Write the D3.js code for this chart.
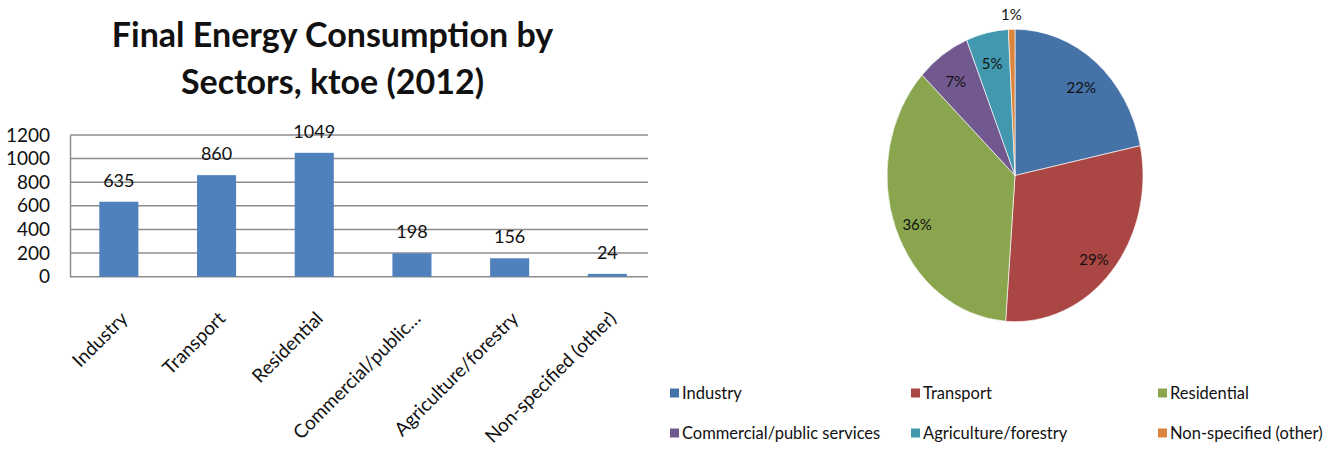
<!DOCTYPE html>
<html>
<head>
<meta charset="utf-8">
<script src="https://cdn.jsdelivr.net/npm/d3@7"></script>
<style>
  html, body { margin: 0; padding: 0; background: #fff; }
  svg { display: block; font-family: Lato, "Open Sans", sans-serif; }
</style>
</head>
<body>
<svg id="chart" width="1327" height="454"></svg>
<script>
// Final energy consumption by sector, ktoe, 2012
const sectors = ["Industry", "Transport", "Residential", "Commercial/public services", "Agriculture/forestry", "Non-specified (other)"];
const axisLabels = ["Industry", "Transport", "Residential", "Commercial/public…", "Agriculture/forestry", "Non-specified (other)"];
const consumption = [635, 860, 1049, 198, 156, 24];
const yTicks = [0, 200, 400, 600, 800, 1000, 1200];
const barColor = "#4F81BD";
const sliceColors = ["#4572A7", "#AA4643", "#89A54E", "#71588F", "#4198AF", "#DB843D"];

const svg = d3.select("#chart");

// ---------- Bar chart ----------
const plot = { left: 70, right: 648, top: 135, bottom: 276.7 };

const x = d3.scaleBand()
  .domain(sectors)
  .range([plot.left, plot.left + 6 * 97.7])
  .paddingInner(0.6)
  .paddingOuter(0.3);

const y = d3.scaleLinear()
  .domain([0, 1200])
  .range([plot.bottom, plot.top]);

// title
const title = svg.append("text")
  .attr("text-anchor", "middle")
  .attr("font-weight", "bold")
  .attr("font-size", 34)
  .attr("fill", "#111");
title.append("tspan").attr("x", 332.5).attr("y", 47).text("Final Energy Consumption by");
title.append("tspan").attr("x", 332.5).attr("y", 94).text("Sectors, ktoe (2012)");

// gridlines
svg.append("g")
  .selectAll("line")
  .data(yTicks)
  .join("line")
  .attr("x1", plot.left)
  .attr("x2", plot.right)
  .attr("y1", d => y(d))
  .attr("y2", d => y(d))
  .attr("stroke", "#8c8c8c")
  .attr("stroke-width", 1.5);

// y axis
const yAxis = svg.append("g")
  .attr("transform", `translate(${plot.left},0)`)
  .call(d3.axisLeft(y).tickValues(yTicks).tickFormat(d3.format("d")).tickSize(0).tickPadding(20));
yAxis.select(".domain").attr("stroke", "#8c8c8c").attr("stroke-width", 1.5);
yAxis.selectAll("text")
  .attr("font-family", "Lato, sans-serif")
  .attr("font-size", 19)
  .attr("fill", "#111");

// bars
svg.append("g")
  .selectAll("rect")
  .data(consumption)
  .join("rect")
  .attr("x", (d, i) => x(sectors[i]))
  .attr("width", x.bandwidth())
  .attr("y", d => y(d))
  .attr("height", d => y(0) - y(d))
  .attr("fill", barColor);

// value labels
svg.append("g")
  .selectAll("text")
  .data(consumption)
  .join("text")
  .attr("x", (d, i) => x(sectors[i]) + x.bandwidth() / 2)
  .attr("y", d => y(d) - 15)
  .attr("text-anchor", "middle")
  .attr("font-size", 18)
  .attr("fill", "#111")
  .text(d => d);

// category labels, rotated
const xAxis = svg.append("g")
  .attr("transform", `translate(0,${plot.bottom})`)
  .call(d3.axisBottom(x).tickSize(0).tickFormat((d, i) => axisLabels[i]));
xAxis.select(".domain").remove();
xAxis.selectAll("text")
  .attr("font-family", "Lato, sans-serif")
  .attr("font-size", 19)
  .attr("fill", "#111")
  .attr("text-anchor", "end")
  .attr("dy", 0)
  .attr("y", 0)
  .attr("x", 0)
  .attr("transform", "translate(10,43) rotate(-45)");

// ---------- Pie chart ----------
const cx = 1015, cy = 175.5, rx = 128, ry = 146.2;
const total = d3.sum(consumption);

const pie = d3.pie().sort(null).value(d => d);
const arcs = pie(consumption);
const arc = d3.arc().innerRadius(0).outerRadius(rx);

svg.append("g")
  .attr("transform", `translate(${cx},${cy}) scale(1,${ry / rx})`)
  .selectAll("path")
  .data(arcs)
  .join("path")
  .attr("d", arc)
  .attr("fill", (d, i) => sliceColors[i])
  .attr("stroke", "#fff")
  .attr("stroke-width", 0.6);

// percentage labels; thin slices get their label outside the rim
svg.append("g")
  .selectAll("text")
  .data(arcs)
  .join("text")
  .attr("transform", d => {
    const outside = d.value / total < 0.02;
    const f = outside ? 1.1 : 0.82;
    const a = (d.startAngle + d.endAngle) / 2;
    return `translate(${cx + rx * f * Math.sin(a)},${cy - ry * f * Math.cos(a) + (outside ? 0 : 5)})`;
  })
  .attr("text-anchor", "middle")
  .attr("dy", "0.38em")
  .attr("font-size", 15)
  .attr("fill", "#111")
  .text(d => Math.round(d.value / total * 100) + "%");

// legend
const legendX = [670, 911, 1158];
const legendY = [393, 433];
const legend = svg.append("g")
  .selectAll("g")
  .data(sectors)
  .join("g")
  .attr("transform", (d, i) => `translate(${legendX[i % 3]},${legendY[Math.floor(i / 3)]})`);
legend.append("rect")
  .attr("x", 0).attr("y", -4.5)
  .attr("width", 9).attr("height", 9)
  .attr("fill", (d, i) => sliceColors[i]);
legend.append("text")
  .attr("x", 12)
  .attr("dy", "0.35em")
  .attr("font-size", 16.5)
  .attr("fill", "#111")
  .text(d => d);
</script>
</body>
</html>
